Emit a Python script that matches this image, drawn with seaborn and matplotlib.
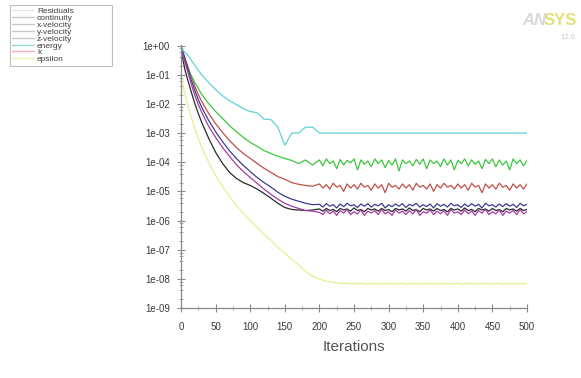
import numpy as np
import pandas as pd
import matplotlib
matplotlib.use("Agg")
import matplotlib.pyplot as plt
import seaborn as sns
from matplotlib.lines import Line2D
from matplotlib.ticker import FixedLocator, FuncFormatter, LogLocator, NullFormatter

# ---------------- data ----------------
iterations = [0, 3, 6, 10, 15, 20, 25, 30, 40, 50, 60, 70, 80, 90, 100, 110, 120, 130,
              140, 150, 160, 170, 180, 190] + list(range(200, 501, 5))

continuity = [
    0.58, 0.31, 0.14, 0.063, 0.025, 0.0102, 0.0047, 0.0023, 6.6e-4, 2.2e-4,
    9.1e-5, 4.5e-5, 2.8e-5, 2.0e-5, 1.6e-5, 1.2e-5, 8.5e-6, 5.8e-6, 3.9e-6, 2.8e-6,
    2.4e-6, 2.3e-6, 2.2e-6, 2.3e-6,
    2.5e-6, 2.1e-6, 2.6e-6, 2.2e-6, 2.4e-6, 2.0e-6, 2.6e-6, 2.3e-6, 2.5e-6, 2.1e-6,
    2.7e-6, 2.2e-6, 2.4e-6, 2.0e-6, 2.6e-6, 2.3e-6, 2.5e-6, 2.1e-6, 2.6e-6, 2.2e-6,
    2.4e-6, 2.0e-6, 2.6e-6, 2.3e-6, 2.5e-6, 2.1e-6, 2.7e-6, 2.2e-6, 2.4e-6, 2.0e-6,
    2.6e-6, 2.3e-6, 2.5e-6, 2.1e-6, 2.6e-6, 2.2e-6, 2.4e-6, 2.0e-6, 2.6e-6, 2.3e-6,
    2.5e-6, 2.1e-6, 2.7e-6, 2.2e-6, 2.4e-6, 2.0e-6, 2.6e-6, 2.3e-6, 2.5e-6, 2.1e-6,
    2.6e-6, 2.2e-6, 2.4e-6, 2.0e-6, 2.6e-6, 2.3e-6, 2.5e-6, 2.1e-6, 2.6e-6, 2.2e-6,
    2.4e-6]

x_velocity = [
    0.85, 0.58, 0.35, 0.19, 0.087, 0.040, 0.021, 0.012, 0.0047, 0.0021,
    1.05e-3, 5.6e-4, 3.2e-4, 2.0e-4, 1.35e-4, 9.1e-5, 6.2e-5, 4.5e-5, 3.2e-5, 2.6e-5,
    2.0e-5, 1.75e-5, 1.6e-5, 1.5e-5,
    1.8e-5, 1.3e-5, 1.7e-5, 1.2e-5, 1.9e-5, 1.4e-5, 1.6e-5, 1.0e-5, 1.8e-5, 1.3e-5,
    1.7e-5, 1.2e-5, 1.9e-5, 1.4e-5, 1.6e-5, 1.1e-5, 1.8e-5, 1.3e-5, 1.7e-5, 0.9e-5,
    1.9e-5, 1.4e-5, 1.6e-5, 1.2e-5, 1.8e-5, 1.3e-5, 1.7e-5, 1.1e-5, 1.9e-5, 1.4e-5,
    1.6e-5, 1.2e-5, 1.8e-5, 1.0e-5, 1.7e-5, 1.3e-5, 1.9e-5, 1.4e-5, 1.6e-5, 1.2e-5,
    1.8e-5, 1.3e-5, 1.7e-5, 1.1e-5, 1.9e-5, 1.4e-5, 1.6e-5, 0.9e-5, 1.8e-5, 1.3e-5,
    1.7e-5, 1.2e-5, 1.9e-5, 1.4e-5, 1.6e-5, 1.1e-5, 1.8e-5, 1.3e-5, 1.7e-5, 1.2e-5,
    1.8e-5]

y_velocity = [
    0.68, 0.42, 0.26, 0.16, 0.093, 0.054, 0.034, 0.021, 0.0102, 0.0055,
    3.2e-3, 1.8e-3, 1.12e-3, 7.1e-4, 4.8e-4, 3.5e-4, 2.5e-4, 2.0e-4, 1.6e-4, 1.35e-4,
    1.15e-4, 9.0e-5, 1.2e-4, 8.0e-5,
    1.2e-4, 7.5e-5, 1.3e-4, 9.0e-5, 1.1e-4, 6.0e-5, 1.25e-4, 8.0e-5, 1.15e-4, 9.5e-5,
    1.3e-4, 5.5e-5, 1.2e-4, 8.5e-5, 1.1e-4, 7.0e-5, 1.3e-4, 9.0e-5, 1.2e-4, 6.5e-5,
    1.15e-4, 8.0e-5, 1.3e-4, 5.0e-5, 1.2e-4, 9.0e-5, 1.1e-4, 7.5e-5, 1.25e-4, 8.5e-5,
    1.3e-4, 6.0e-5, 1.2e-4, 9.0e-5, 1.1e-4, 7.0e-5, 1.3e-4, 8.0e-5, 1.2e-4, 5.5e-5,
    1.15e-4, 9.0e-5, 1.3e-4, 7.5e-5, 1.2e-4, 8.5e-5, 1.1e-4, 6.0e-5, 1.25e-4, 9.0e-5,
    1.3e-4, 7.0e-5, 1.2e-4, 8.0e-5, 1.1e-4, 5.5e-5, 1.3e-4, 9.0e-5, 1.2e-4, 7.5e-5,
    1.15e-4]

z_velocity = [
    0.93, 0.58, 0.33, 0.16, 0.063, 0.029, 0.014, 0.0076, 0.0027, 0.00112,
    5.1e-4, 2.5e-4, 1.35e-4, 7.8e-5, 4.8e-5, 3.0e-5, 2.0e-5, 1.4e-5, 9.3e-6, 6.8e-6,
    5.4e-6, 4.6e-6, 3.9e-6, 3.5e-6,
    3.6e-6, 2.9e-6, 3.8e-6, 3.1e-6, 3.5e-6, 2.7e-6, 3.7e-6, 3.0e-6, 3.9e-6, 3.2e-6,
    3.5e-6, 2.8e-6, 3.7e-6, 3.1e-6, 3.8e-6, 2.9e-6, 3.6e-6, 3.2e-6, 3.9e-6, 2.7e-6,
    3.5e-6, 3.0e-6, 3.7e-6, 3.1e-6, 3.8e-6, 2.8e-6, 3.6e-6, 3.2e-6, 3.9e-6, 2.9e-6,
    3.5e-6, 3.0e-6, 3.7e-6, 2.7e-6, 3.8e-6, 3.1e-6, 3.6e-6, 2.9e-6, 3.9e-6, 3.2e-6,
    3.5e-6, 2.8e-6, 3.7e-6, 3.0e-6, 3.8e-6, 3.1e-6, 3.6e-6, 2.7e-6, 3.9e-6, 3.2e-6,
    3.5e-6, 2.9e-6, 3.7e-6, 3.0e-6, 3.8e-6, 3.1e-6, 3.6e-6, 2.8e-6, 3.9e-6, 3.2e-6,
    3.6e-6]

energy = [
    1.1, 0.68, 0.57, 0.46, 0.31, 0.21, 0.14, 0.10, 0.054, 0.031,
    0.019, 0.013, 0.0095, 0.0069, 0.0055, 0.0050, 0.0030, 0.0029, 0.0016, 0.00038,
    0.0010, 0.0010, 0.0016, 0.0016,
    1.0e-3, 1.0e-3, 1.0e-3, 1.0e-3, 1.0e-3, 1.0e-3, 1.0e-3, 1.0e-3, 1.0e-3, 1.0e-3,
    1.0e-3, 1.0e-3, 1.0e-3, 1.0e-3, 1.0e-3, 1.0e-3, 1.0e-3, 1.0e-3, 1.0e-3, 1.0e-3,
    1.0e-3, 1.0e-3, 1.0e-3, 1.0e-3, 1.0e-3, 1.0e-3, 1.0e-3, 1.0e-3, 1.0e-3, 1.0e-3,
    1.0e-3, 1.0e-3, 1.0e-3, 1.0e-3, 1.0e-3, 1.0e-3, 1.0e-3, 1.0e-3, 1.0e-3, 1.0e-3,
    1.0e-3, 1.0e-3, 1.0e-3, 1.0e-3, 1.0e-3, 1.0e-3, 1.0e-3, 1.0e-3, 1.0e-3, 1.0e-3,
    1.0e-3, 1.0e-3, 1.0e-3, 1.0e-3, 1.0e-3, 1.0e-3, 1.0e-3, 1.0e-3, 1.0e-3, 1.0e-3,
    1.0e-3]

k = [
    0.79, 0.46, 0.26, 0.12, 0.046, 0.0195, 0.0095, 0.0051, 0.0017, 7.1e-4,
    3.2e-4, 1.6e-4, 8.3e-5, 4.8e-5, 3.0e-5, 1.9e-5, 1.2e-5, 7.9e-6, 5.4e-6, 3.9e-6,
    3.1e-6, 2.6e-6, 2.2e-6, 2.1e-6,
    1.9e-6, 1.6e-6, 2.3e-6, 1.7e-6, 2.1e-6, 1.5e-6, 2.2e-6, 1.8e-6, 2.4e-6, 1.6e-6,
    2.0e-6, 1.7e-6, 2.3e-6, 1.5e-6, 2.1e-6, 1.8e-6, 2.2e-6, 1.6e-6, 2.4e-6, 1.7e-6,
    2.0e-6, 1.5e-6, 2.3e-6, 1.8e-6, 2.1e-6, 1.6e-6, 2.2e-6, 1.7e-6, 2.4e-6, 1.5e-6,
    2.0e-6, 1.8e-6, 2.3e-6, 1.6e-6, 2.1e-6, 1.7e-6, 2.2e-6, 1.5e-6, 2.4e-6, 1.8e-6,
    2.0e-6, 1.6e-6, 2.3e-6, 1.7e-6, 2.1e-6, 1.5e-6, 2.2e-6, 1.8e-6, 2.4e-6, 1.6e-6,
    2.0e-6, 1.7e-6, 2.3e-6, 1.5e-6, 2.1e-6, 1.8e-6, 2.2e-6, 1.6e-6, 2.4e-6, 1.7e-6,
    2.0e-6]

epsilon = [
    0.093, 0.043, 0.0195, 0.0089, 0.0034, 1.45e-3, 6.6e-4, 3.2e-4, 9.8e-5, 3.5e-5,
    1.48e-5, 6.8e-6, 3.3e-6, 1.78e-6, 1.02e-6, 5.9e-7, 3.4e-7, 2.1e-7, 1.2e-7, 7.6e-8,
    4.7e-8, 3.0e-8, 1.8e-8, 1.23e-8,
    9.8e-9, 9.0e-9, 8.3e-9, 7.9e-9, 7.6e-9, 7.3e-9, 7.1e-9, 6.9e-9, 7.1e-9, 6.7e-9,
    7.0e-9, 6.8e-9, 7.1e-9, 6.6e-9, 6.9e-9, 6.7e-9, 7.0e-9, 6.6e-9, 6.9e-9, 6.8e-9,
    7.0e-9, 6.6e-9, 6.9e-9, 6.7e-9, 7.0e-9, 6.6e-9, 6.9e-9, 6.8e-9, 7.0e-9, 6.6e-9,
    6.9e-9, 6.7e-9, 7.0e-9, 6.6e-9, 6.9e-9, 6.8e-9, 7.0e-9, 6.6e-9, 6.9e-9, 6.7e-9,
    7.0e-9, 6.6e-9, 6.9e-9, 6.8e-9, 7.0e-9, 6.6e-9, 6.9e-9, 6.7e-9, 7.0e-9, 6.6e-9,
    6.9e-9, 6.8e-9, 7.0e-9, 6.6e-9, 6.9e-9, 6.7e-9, 7.0e-9, 6.6e-9, 6.9e-9, 6.8e-9,
    6.9e-9]

series_names = ["continuity", "x-velocity", "y-velocity", "z-velocity", "energy", "k", "epsilon"]
series_values = [continuity, x_velocity, y_velocity, z_velocity, energy, k, epsilon]
series_colors = ["#2b2b2b", "#c0504a", "#3fc63f", "#3c3c90", "#62d2d2", "#a43ca4", "#e8f08c"]
legend_colors = ["#c8c8c8", "#c8c8c8", "#c8c8c8", "#c8c8c8", "#9ad8d0", "#f0b0c0", "#eef0b0"]

x_ticks = [0, 50, 100, 150, 200, 250, 300, 350, 400, 450, 500]
y_ticks = [1e0, 1e-1, 1e-2, 1e-3, 1e-4, 1e-5, 1e-6, 1e-7, 1e-8, 1e-9]

rows = []
for name, vals in zip(series_names, series_values):
    for it, v in zip(iterations, vals):
        rows.append({"Iterations": it, "residual": v, "series": name})
df = pd.DataFrame(rows)

# ---------------- figure ----------------
sns.set_theme(style="white")
plt.rcParams["font.family"] = ["Liberation Sans", "DejaVu Sans"]

fig = plt.figure(figsize=(5.81, 3.78), dpi=100)
ax = fig.add_axes([181 / 581, 1 - 308 / 378, (527 - 181) / 581, (308 - 45) / 378])

sns.lineplot(data=df, x="Iterations", y="residual", hue="series",
             hue_order=series_names, palette=dict(zip(series_names, series_colors)),
             estimator=None, sort=False, linewidth=0.9, legend=False, ax=ax)

ax.set_yscale("log")
ax.set_xlim(0, 500)
ax.set_ylim(1e-9, 1.05e0)

ax.xaxis.set_major_locator(FixedLocator(x_ticks))
ax.xaxis.set_minor_locator(FixedLocator(list(range(25, 500, 50))))
ax.yaxis.set_major_locator(FixedLocator(y_ticks))
ax.yaxis.set_minor_locator(LogLocator(base=10, subs=(2, 4, 6, 8), numticks=20))
ax.yaxis.set_minor_formatter(NullFormatter())
ax.yaxis.set_major_formatter(FuncFormatter(lambda v, p: "{:.0e}".format(v)))

for side in ["top", "right"]:
    ax.spines[side].set_visible(False)
for side in ["left", "bottom"]:
    ax.spines[side].set_color("#8a8a8a")
    ax.spines[side].set_linewidth(0.9)

ax.tick_params(axis="both", which="major", direction="inout", length=6, width=0.8,
               color="#8a8a8a", labelsize=7, labelcolor="#3a3a3a", pad=5,
               left=True, bottom=True)
ax.tick_params(axis="both", which="minor", direction="inout", length=3, width=0.6,
               color="#9a9a9a", left=True, bottom=True)
ax.tick_params(axis="x", which="major", pad=7)

ax.set_xlabel("Iterations", fontsize=11, color="#555555", labelpad=6)
ax.set_ylabel("")
ax.grid(False)

# legend
handles = [Line2D([0], [0], color="#e6e6e6", lw=1.0)]
labels = ["Residuals"]
for name, c in zip(series_names, legend_colors):
    handles.append(Line2D([0], [0], color=c, lw=1.0))
    labels.append(name)
leg = fig.legend(handles, labels, loc="upper left",
                 bbox_to_anchor=(10 / 581, 1 - 73 / 378, 102 / 581, 68 / 378),
                 mode="expand", fontsize=6, frameon=True, fancybox=False,
                 labelspacing=-0.12, handlelength=2.6, handletextpad=0.35,
                 borderpad=0.3, borderaxespad=0)
leg.get_frame().set_edgecolor("#b0b0b0")
leg.get_frame().set_linewidth(0.8)
for t in leg.get_texts():
    t.set_color("#404040")

# logo
fig.text(522 / 581, 1 - 25 / 378, "AN", fontsize=12, fontweight="bold", fontstyle="italic",
         color="#d8d8d8", ha="left", va="baseline")
fig.text(544 / 581, 1 - 25 / 378, "SYS", fontsize=12, fontweight="bold",
         color="#e6df7a", ha="left", va="baseline")
fig.text(575 / 581, 1 - 39 / 378, "12.0", fontsize=5.5, color="#c8c8c8", ha="right", va="baseline")

fig.savefig("out.png", dpi=100, facecolor="white")
